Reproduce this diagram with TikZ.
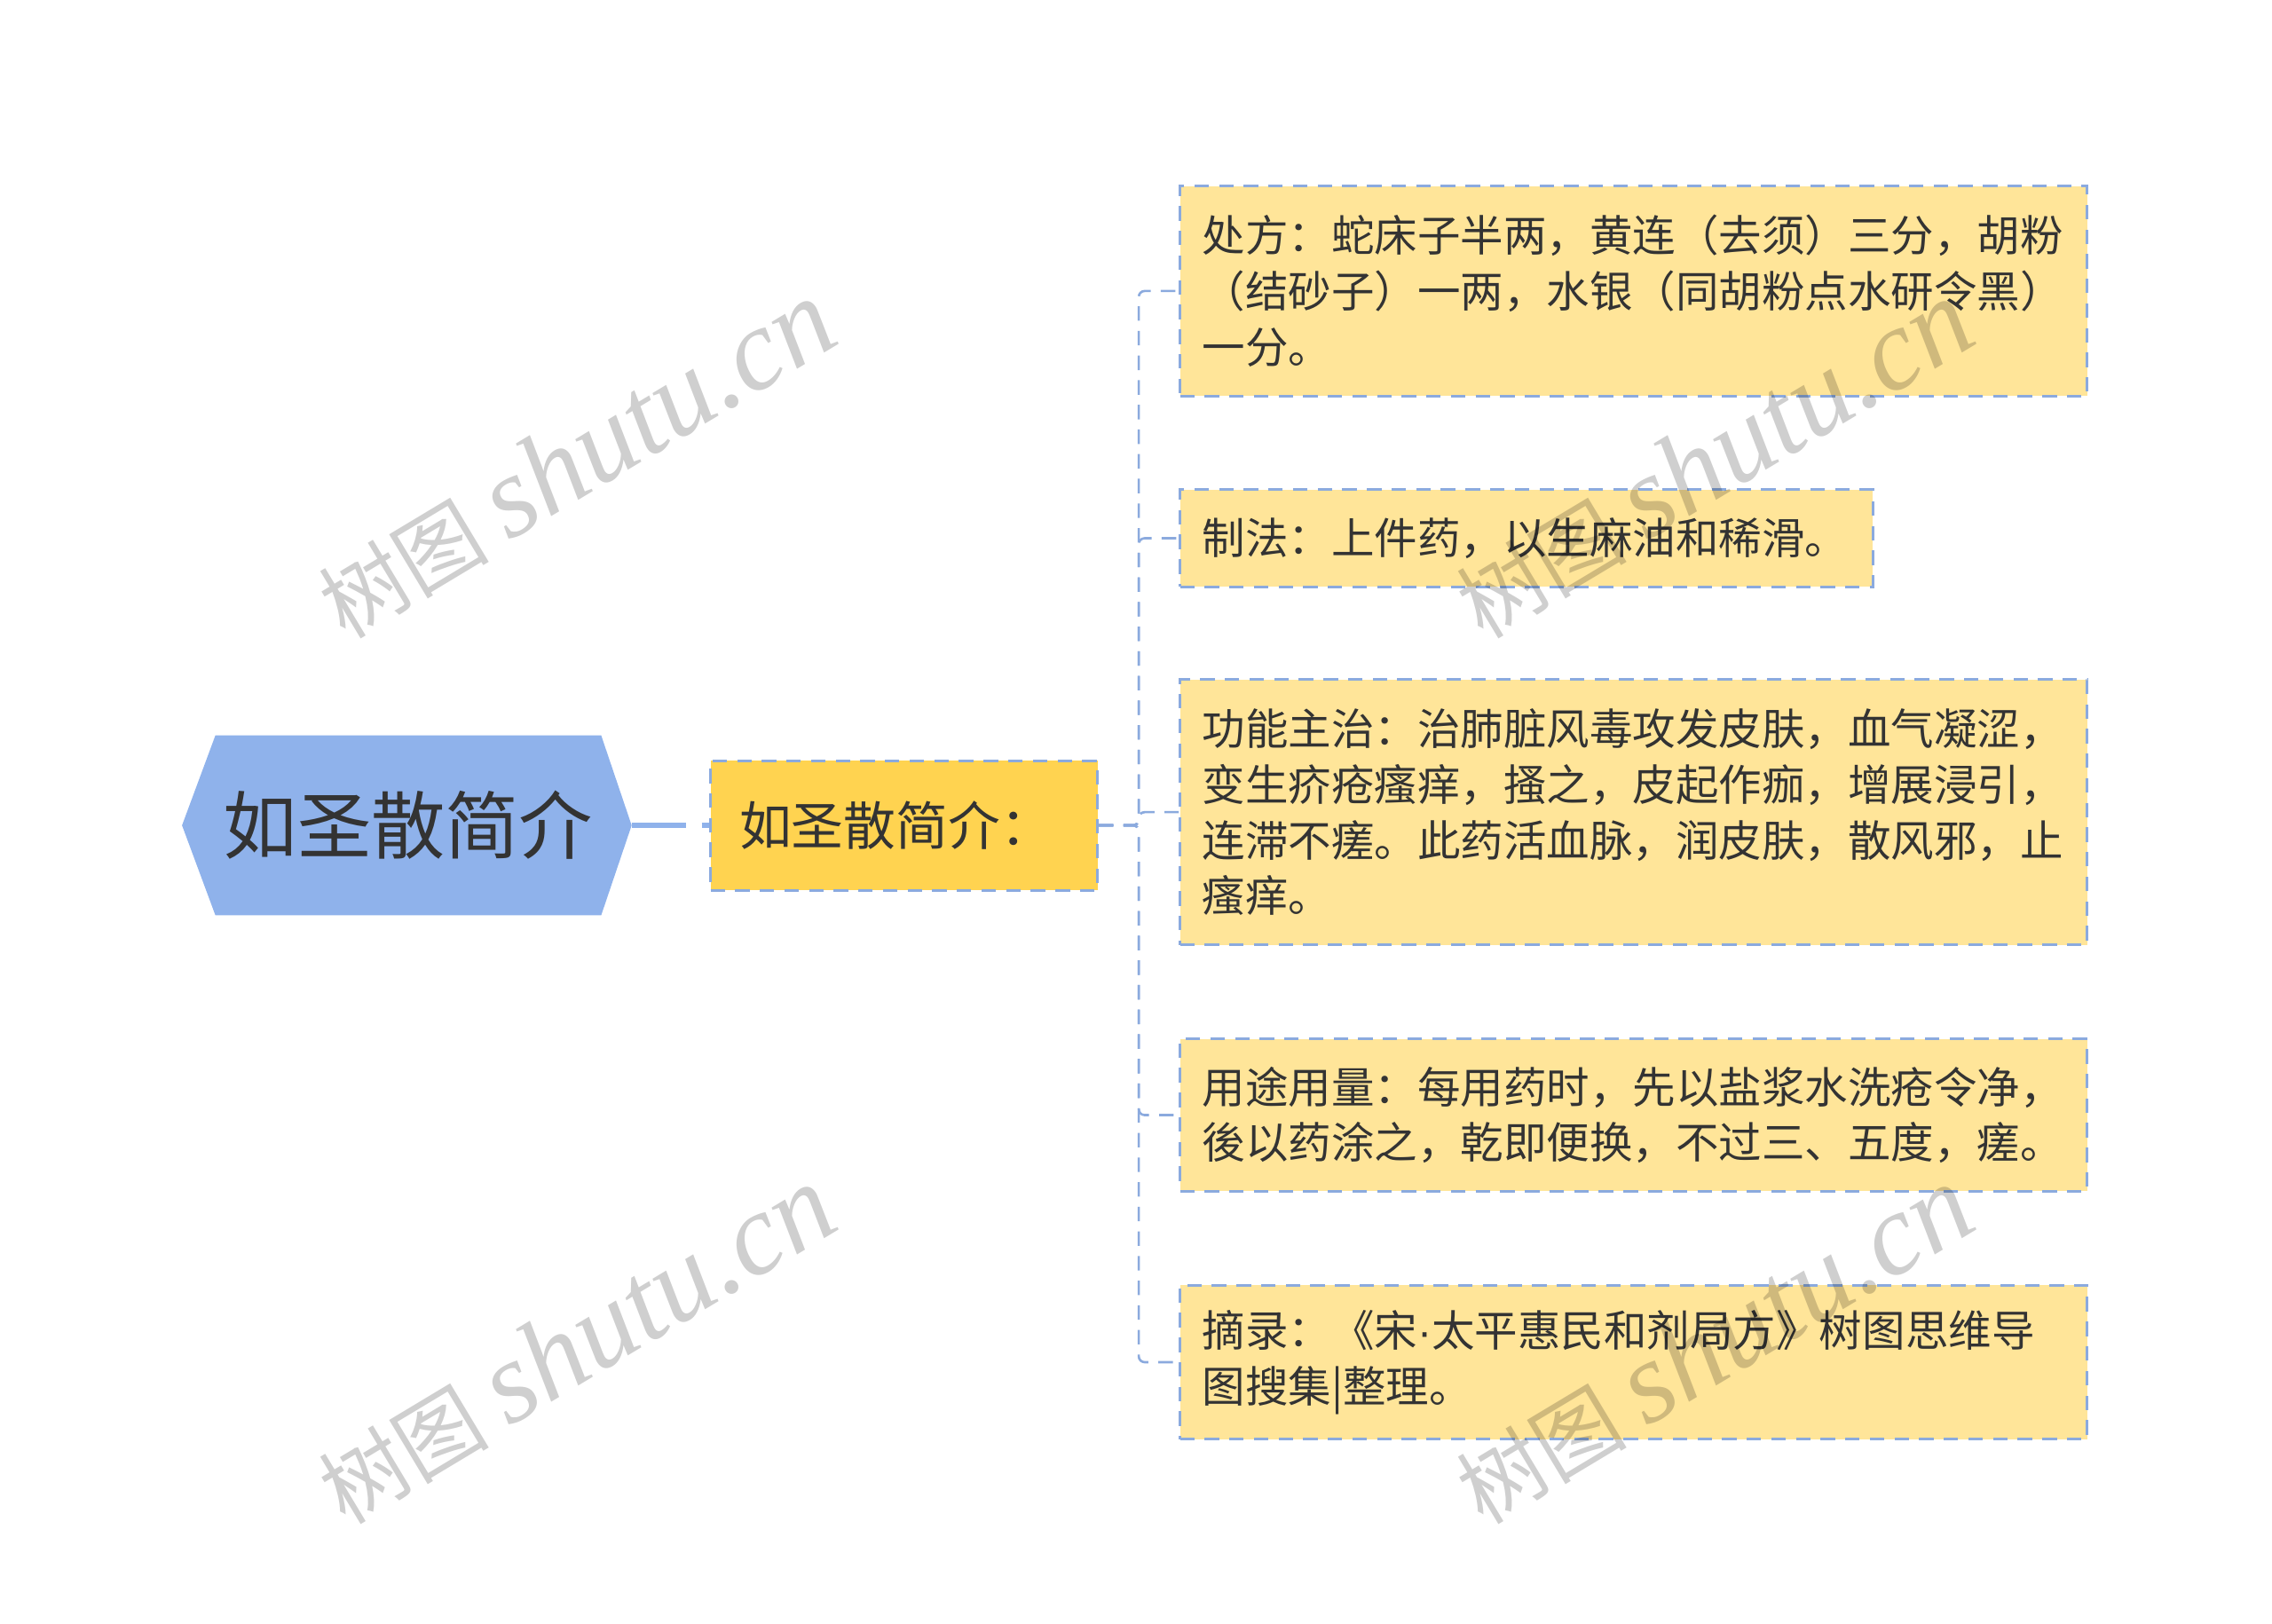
\documentclass[tikz,border=0pt]{standalone}
\usepackage{fontspec}
\setmainfont{Noto Sans CJK SC}
\newfontfamily\wmlatin{Liberation Serif}
\newfontfamily\latinfont{Liberation Sans}
\usetikzlibrary{calc,backgrounds}
\definecolor{rootfill}{RGB}{143,178,235}
\definecolor{midfill}{RGB}{255,211,80}
\definecolor{leaffill}{RGB}{255,229,153}
\definecolor{edgeblue}{RGB}{139,170,222}
\definecolor{txt}{RGB}{51,51,51}
\newcommand{\wmtext}{{\fontsize{59}{60}\selectfont 树图}\hspace{14pt}{\wmlatin\itshape\fontsize{80}{80}\selectfont shutu.cn}}
\begin{document}
\begin{tikzpicture}[x=1pt,y=-1pt,
  leaf/.style={draw=edgeblue, fill=leaffill, line width=1.8pt, dash pattern=on 10pt off 7pt,
    anchor=north west, align=left, inner xsep=15.5pt, inner ysep=0pt, text=txt,
    font=\fontsize{29.7}{38.5}\selectfont},
  midbox/.style={draw=edgeblue, fill=midfill, line width=1.8pt, dash pattern=on 10pt off 7pt,
    align=left, inner xsep=20pt, inner ysep=0pt, text width=227pt, minimum height=89.4pt,
    text=txt, font=\fontsize{36}{40}\selectfont},
  roottext/.style={inner sep=0pt, minimum width=265.8pt, minimum height=123.7pt, text=txt,
    font=\fontsize{51}{56}\selectfont},
  conn/.style={draw=edgeblue, line width=1.6pt, dash pattern=on 10pt off 7pt, rounded corners=4pt},
  wmark/.style={text=black, opacity=0.19, rotate=31, inner sep=0pt}]
\useasboundingbox (0,0) rectangle (1567.6,1120);

% root
\node[roottext] (root) at (281.7,569.5) {如圣散简介};
\begin{scope}[on background layer]
\fill[rootfill] (root.north west) -- (root.north east) -- ($(root.east)+(21,0)$)
  -- (root.south east) -- (root.south west) -- ($(root.west)+(-23,0)$) -- cycle;
\end{scope}
\coordinate (roottip) at ($(root.east)+(21,0)$);

% middle
\node[midbox] (n2) at (623.7,569.5) {如圣散简介：};
\draw[rootfill, line width=4pt, dash pattern=on 37.4pt off 11pt on 20pt] (roottip) -- (n2.west);

% leaves
\node[leaf, text width=595pt, minimum height=145pt] (c1) at (813.2,127.4)
  {处方：蛇床子半两，黄连（去须）三分，胡粉\\（结砂子）一两，水银（同胡粉点水研令黑）\\一分。};
\node[leaf, text width=447pt, minimum height=67pt] (c2) at (813.2,337)
  {制法：上件药，以生麻油和稀滑。};
\node[leaf, text width=595pt, minimum height=183pt] (c3) at (813.2,468)
  {功能主治：治肺脏风毒攻发皮肤，血气凝涩，\\变生疥疮瘙痒，搔之，皮起作痂，增展浸引，\\连滞不瘥。此药活血脉，润皮肤，散风邪，止\\瘙痒。};
\node[leaf, text width=595pt, minimum height=105pt] (c4) at (813.2,716)
  {用途用量：每用药时，先以盐浆水洗疮令净，\\後以药涂之，乾即便换，不过三、五度，瘥。};
\node[leaf, text width=595pt, minimum height=106pt] (c5) at (813.2,886)
  {摘录：《宋{\latinfont ·}太平惠民和剂局方》树图思维导\\图搜集|整理。};

% connectors
\coordinate (trunk) at (785.7,569.5);
\foreach \c in {c1,c2,c3,c4,c5}
  \draw[conn] (n2.east) -- (trunk) |- (\c.west);

% watermarks
\node[wmark] (wm1) at (397,317) {\wmtext};
\node[wmark] (wm2) at (1182,317) {\wmtext};
\node[wmark] (wm3) at (397,928) {\wmtext};
\node[wmark] (wm4) at (1182,928) {\wmtext};
\end{tikzpicture}
\end{document}
